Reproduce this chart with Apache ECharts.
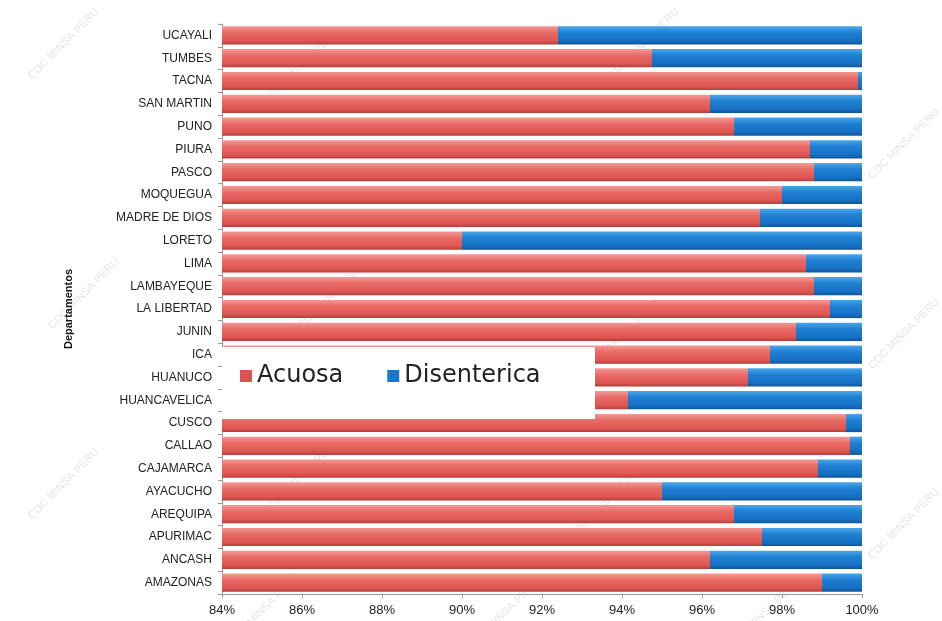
<!DOCTYPE html>
<html>
<head>
    <meta charset="utf-8">
    <script src="https://cdn.jsdelivr.net/npm/echarts@6/dist/echarts.min.js"></script>
    <title>Departamentos</title>
    <style>
        html, body { margin: 0; padding: 0; background: #fff; }
    </style>
</head>
<body>
    <div id="main" style="width:942px; height:621px;"></div>
    <script type="text/javascript">
        // categories bottom to top
        var departamentos = ['AMAZONAS', 'ANCASH', 'APURIMAC', 'AREQUIPA', 'AYACUCHO', 'CAJAMARCA', 'CALLAO',
            'CUSCO', 'HUANCAVELICA', 'HUANUCO', 'ICA', 'JUNIN', 'LA LIBERTAD', 'LAMBAYEQUE', 'LIMA', 'LORETO',
            'MADRE DE DIOS', 'MOQUEGUA', 'PASCO', 'PIURA', 'PUNO', 'SAN MARTIN', 'TACNA', 'TUMBES', 'UCAYALI'];
        var acuosa = [99.0, 96.2, 97.5, 96.8, 95.0, 98.9, 99.7,
            99.6, 94.15, 97.15, 97.7, 98.35, 99.2, 98.8, 98.6, 90.0,
            97.45, 98.0, 98.8, 98.7, 96.8, 96.2, 99.9, 94.75, 92.4];
        var disenterica = [1.0, 3.8, 2.5, 3.2, 5.0, 1.1, 0.3,
            0.4, 5.85, 2.85, 2.3, 1.65, 0.8, 1.2, 1.4, 10.0,
            2.55, 2.0, 1.2, 1.3, 3.2, 3.8, 0.1, 5.25, 7.6];

        var myChart = echarts.init(document.getElementById('main'));

        var redFill = new echarts.graphic.LinearGradient(0, 0, 0, 1, [
            { offset: 0, color: '#f49a96' },
            { offset: 0.35, color: '#e86a66' },
            { offset: 0.8, color: '#de5652' },
            { offset: 1, color: '#b43e3b' }
        ]);
        var blueFill = new echarts.graphic.LinearGradient(0, 0, 0, 1, [
            { offset: 0, color: '#4aa6ea' },
            { offset: 0.35, color: '#1f80d2' },
            { offset: 0.8, color: '#1670c2' },
            { offset: 1, color: '#0f559a' }
        ]);

        // faint watermark text
        var marks = [];
        var spots = [[60, 40], [300, 60], [640, 40], [900, 140], [80, 290], [330, 290], [620, 330],
            [900, 330], [60, 480], [300, 470], [600, 500], [900, 520], [260, 605], [500, 610], [760, 610]];
        spots.forEach(function (p) {
            marks.push({
                type: 'text', x: p[0], y: p[1], rotation: Math.PI / 4, z: 0,
                style: { text: 'CDC MINSA PERU', fill: 'rgba(180,180,180,0.35)', font: '11px "Liberation Sans"', align: 'center' }
            });
        });
        // white box behind the legend, drawn over the bars
        marks.push({
            type: 'rect', z: 100,
            shape: { x: 222, y: 347, width: 373, height: 72 },
            style: { fill: '#ffffff' }
        });

        var option = {
            animation: false,
            textStyle: { fontFamily: '"Liberation Sans", Arial, sans-serif' },
            graphic: marks,
            grid: { left: 222, right: 80, top: 24, bottom: 27 },
            legend: {
                left: 240, top: 364,
                padding: 0,
                itemGap: 44,
                itemWidth: 12, itemHeight: 12,
                icon: 'rect',
                z: 110,
                textStyle: { fontSize: 24, color: '#222', fontFamily: '"DejaVu Sans", sans-serif' },
                data: [
                    { name: 'Acuosa', itemStyle: { color: '#d9534f' } },
                    { name: 'Disenterica', itemStyle: { color: '#1a78cc' } }
                ]
            },
            xAxis: {
                type: 'value',
                min: 84, max: 100, interval: 2,
                axisLine: { show: true, lineStyle: { color: '#999' } },
                axisTick: { show: true, length: 4, lineStyle: { color: '#999' } },
                splitLine: { show: false },
                axisLabel: { formatter: '{value}%', color: '#222', fontSize: 13, margin: 10 }
            },
            yAxis: {
                type: 'category',
                data: departamentos,
                name: 'Departamentos',
                nameLocation: 'middle',
                nameGap: 148,
                nameTextStyle: { fontSize: 11, fontWeight: 'bold', color: '#111' },
                axisLine: { show: true, lineStyle: { color: '#999' } },
                axisTick: { show: true, length: 4, lineStyle: { color: '#999' } },
                axisLabel: { color: '#222', fontSize: 12, margin: 10 }
            },
            series: [
                {
                    name: 'Acuosa',
                    type: 'bar',
                    stack: 'total',
                    data: acuosa,
                    barCategoryGap: '20%',
                    itemStyle: { color: redFill }
                },
                {
                    name: 'Disenterica',
                    type: 'bar',
                    stack: 'total',
                    data: disenterica,
                    itemStyle: { color: blueFill }
                }
            ]
        };
        myChart.setOption(option);
    </script>
</body>
</html>
